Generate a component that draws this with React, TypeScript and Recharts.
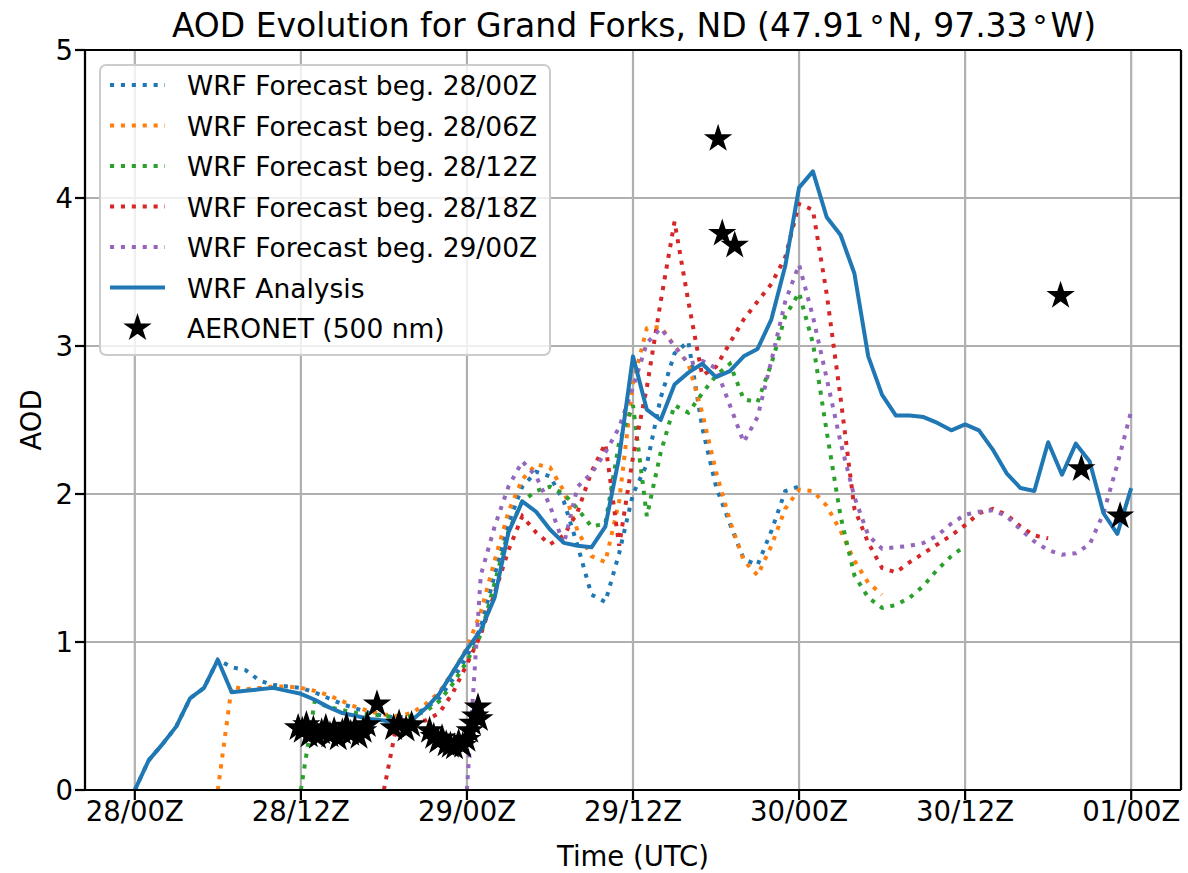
import {
  ComposedChart,
  Line,
  Scatter,
  XAxis,
  YAxis,
  CartesianGrid,
  ReferenceLine,
} from "recharts"

const FONT = "DejaVu Sans, Verdana, sans-serif"

const tickHours = [0, 12, 24, 36, 48, 60, 72]
const tickLabels = ["28/00Z", "28/12Z", "29/00Z", "29/12Z", "30/00Z", "30/12Z", "01/00Z"]
const aodTicks = [0, 1, 2, 3, 4, 5]

// hourly values, analysis runs 28/00Z .. 01/00Z
const analysis = [
  0, 0.2, 0.31, 0.43, 0.62, 0.69, 0.88, 0.66, 0.67, 0.68,
  0.69, 0.67, 0.65, 0.61, 0.56, 0.52, 0.5, 0.48, 0.47, 0.45,
  0.47, 0.55, 0.65, 0.8, 0.95, 1.08, 1.3, 1.74, 1.95, 1.88,
  1.76, 1.67, 1.65, 1.64, 1.78, 2.25, 2.93, 2.57, 2.5, 2.74,
  2.82, 2.88, 2.79, 2.83, 2.93, 2.98, 3.18, 3.54, 4.07, 4.18,
  3.87, 3.75, 3.49, 2.93, 2.67, 2.53, 2.53, 2.52, 2.48, 2.43,
  2.47, 2.43, 2.3, 2.14, 2.04, 2.02, 2.35, 2.13, 2.34, 2.22,
  1.87, 1.73, 2.04,
]

// 48 h forecasts, hourly from their start time
const fc2800 = [
  0, 0.2, 0.31, 0.43, 0.62, 0.69, 0.88, 0.83, 0.81, 0.74,
  0.71, 0.7, 0.69, 0.66, 0.62, 0.58, 0.55, 0.52, 0.5, 0.49,
  0.5, 0.55, 0.62, 0.75, 0.9, 1.1, 1.45, 1.8, 2.05, 2.15,
  2.12, 1.95, 1.65, 1.32, 1.27, 1.6, 2.0, 2.2, 2.65, 2.95,
  3.03, 2.45, 2.05, 1.8, 1.56, 1.52, 1.75, 2.02, 2.05,
]
const fc2806 = [
  0, 0.7, 0.68, 0.69, 0.7, 0.7, 0.69, 0.67, 0.64, 0.6,
  0.56, 0.53, 0.51, 0.5, 0.52, 0.58, 0.66, 0.8, 0.96, 1.2,
  1.55, 1.88, 2.1, 2.2, 2.18, 2.02, 1.75, 1.58, 1.54, 1.95,
  2.75, 3.12, 3.13, 3.0, 2.88, 2.55, 2.15, 1.82, 1.55, 1.45,
  1.65, 1.9, 2.03, 2.02, 1.92, 1.75, 1.55, 1.4, 1.32,
]
const fc2812 = [
  0, 0.6, 0.56, 0.54, 0.52, 0.51, 0.5, 0.49, 0.5, 0.53,
  0.6, 0.72, 0.87, 1.05, 1.4, 1.75, 1.95, 2.02, 2.05, 2.0,
  1.9, 1.78, 1.8, 2.35, 2.6, 1.85, 2.28, 2.6, 2.55, 2.68,
  2.8, 2.88, 2.64, 2.62, 2.88, 3.2, 3.36, 3.02, 2.42, 1.85,
  1.45, 1.3, 1.23, 1.25, 1.3, 1.38, 1.49, 1.58, 1.65,
]
const fc2818 = [
  0, 0.48, 0.46, 0.47, 0.52, 0.66, 0.85, 1.05, 1.33, 1.62,
  1.85, 1.74, 1.66, 1.72, 1.88, 2.15, 2.34, 1.65, 2.25, 2.72,
  3.3, 3.84, 3.3, 2.8, 2.86, 3.02, 3.18, 3.3, 3.42, 3.6,
  3.96, 3.92, 3.35, 2.65, 1.9, 1.67, 1.5, 1.47, 1.54, 1.6,
  1.66, 1.72, 1.79, 1.87, 1.9, 1.86, 1.78, 1.72, 1.7,
]
const fc2900 = [
  0, 1.45, 1.78, 2.05, 2.22, 2.12, 1.92, 1.66, 2.05, 2.14,
  2.28, 2.45, 2.72, 3.02, 3.12, 3.0, 2.88, 2.9, 2.85, 2.6,
  2.35, 2.52, 2.9, 3.3, 3.55, 3.2, 2.78, 2.35, 1.98, 1.72,
  1.63, 1.64, 1.65, 1.67, 1.72, 1.8, 1.86, 1.88, 1.89, 1.85,
  1.76, 1.68, 1.62, 1.59, 1.6, 1.66, 1.87, 2.2, 2.56,
]

// AERONET 500 nm, hours after 28/00Z
const aeronetHours = [
  11.8, 12.1, 12.4, 12.6, 12.9, 13.2, 13.5, 13.8, 14.1, 14.4,
  14.7, 15.0, 15.3, 15.6, 15.9, 16.2, 16.5, 16.8, 17.5, 18.7,
  19.1, 19.6, 20.0, 21.3, 21.6, 21.9, 22.2, 22.5, 22.8, 23.1,
  23.4, 23.7, 24.0, 24.2, 24.4, 24.6, 24.8, 24.9, 42.15, 42.45,
  43.35, 66.9, 68.4, 71.2,
]
const aeronetAod = [
  0.42, 0.4, 0.44, 0.37, 0.41, 0.36, 0.39, 0.42, 0.37, 0.4,
  0.35, 0.39, 0.43, 0.38, 0.41, 0.36, 0.4, 0.44, 0.58, 0.42,
  0.45, 0.41, 0.44, 0.4, 0.36, 0.33, 0.35, 0.31, 0.3, 0.29,
  0.32, 0.3, 0.34, 0.4, 0.45, 0.5, 0.56, 0.48, 4.4, 3.76,
  3.68, 3.34, 2.17, 1.85,
]

const forecasts = [
  { name: "WRF Forecast beg. 28/00Z", start: 0, values: fc2800, color: "#1f77b4" },
  { name: "WRF Forecast beg. 28/06Z", start: 6, values: fc2806, color: "#ff7f0e" },
  { name: "WRF Forecast beg. 28/12Z", start: 12, values: fc2812, color: "#2ca02c" },
  { name: "WRF Forecast beg. 28/18Z", start: 18, values: fc2818, color: "#d62728" },
  { name: "WRF Forecast beg. 29/00Z", start: 24, values: fc2900, color: "#9467bd" },
]

const toPoints = (start: number, values: number[]) =>
  values.map((v, i) => ({ h: start + i, v }))

const aeronetPoints = aeronetHours.map((h, i) => ({ h, v: aeronetAod[i] }))

const DOTS = "4.1 6.8"

function starPath(cx: number, cy: number, R: number) {
  const r = R * 0.381966
  let d = ""
  for (let i = 0; i < 10; i++) {
    const rad = i % 2 === 0 ? R : r
    const a = -Math.PI / 2 + (i * Math.PI) / 5
    d += (i === 0 ? "M" : "L") + (cx + rad * Math.cos(a)).toFixed(2) + "," + (cy + rad * Math.sin(a)).toFixed(2)
  }
  return d + "Z"
}

function StarShape(props: any) {
  const { cx, cy } = props
  if (cx == null || cy == null) return null
  return <path d={starPath(cx, cy, 12.5)} fill="#000" stroke="#000" strokeWidth={1.5} />
}

function XTick(props: any) {
  const { x, y, payload } = props
  const idx = tickHours.indexOf(payload.value)
  return (
    <text x={x} y={y} dy={19} textAnchor="middle" fontFamily={FONT} fontSize={27.5} fill="#000">
      {tickLabels[idx]}
    </text>
  )
}

function YTick(props: any) {
  const { x, y, payload } = props
  return (
    <text x={x} y={y} dy={10} textAnchor="end" fontFamily={FONT} fontSize={27.5} fill="#000">
      {payload.value}
    </text>
  )
}

function Overlay() {
  const rowY = [85, 125.5, 166, 206.5, 247, 287.5, 328]
  return (
    <svg
      width={1188}
      height={873}
      style={{ position: "absolute", left: 0, top: 0, pointerEvents: "none" }}
      fontFamily={FONT}
    >
      <text x={634} y={37} textAnchor="middle" fontSize={33} fill="#000">
        AOD Evolution for Grand Forks, ND (47.91
        <tspan dx={5} fontSize={30}>°</tspan>
        <tspan dx={3}>N, 97.33</tspan>
        <tspan dx={5} fontSize={30}>°</tspan>
        <tspan dx={3}>W)</tspan>
      </text>
      <text x={633} y={866} textAnchor="middle" fontSize={27.5} fill="#000">
        Time (UTC)
      </text>
      <text
        x={0}
        y={0}
        transform="translate(41,420) rotate(-90)"
        textAnchor="middle"
        fontSize={27.5}
        fill="#000"
      >
        AOD
      </text>

      <rect
        x={100}
        y={65}
        width={450}
        height={290}
        rx={6}
        fill="rgba(255,255,255,0.8)"
        stroke="#cccccc"
        strokeWidth={2}
      />
      {forecasts.map((f, i) => (
        <g key={f.name}>
          <line x1={110} x2={165} y1={rowY[i]} y2={rowY[i]} stroke={f.color} strokeWidth={4} strokeDasharray={DOTS} />
          <text x={187} y={rowY[i] + 10} fontSize={26.5} fill="#000">
            {f.name}
          </text>
        </g>
      ))}
      <line x1={110} x2={165} y1={rowY[5]} y2={rowY[5]} stroke="#1f77b4" strokeWidth={4} />
      <text x={187} y={rowY[5] + 10} fontSize={26.5} fill="#000">
        WRF Analysis
      </text>
      <path d={starPath(137.5, rowY[6], 12.5)} fill="#000" stroke="#000" strokeWidth={1.5} />
      <text x={187} y={rowY[6] + 10} fontSize={26.5} fill="#000">
        AERONET (500 nm)
      </text>
    </svg>
  )
}

export default function App() {
  return (
    <div style={{ position: "absolute", left: 0, top: 0, width: 1188, height: 873, background: "#fff" }}>
      <ComposedChart width={1188} height={873} margin={{ top: 50, right: 7, bottom: 0, left: 0 }}>
        <CartesianGrid stroke="#b0b0b0" strokeWidth={2.2} />
        <XAxis
          type="number"
          dataKey="h"
          domain={[-3.6, 75.6]}
          ticks={tickHours}
          allowDataOverflow
          height={83}
          tickSize={10}
          tickMargin={2}
          tick={<XTick />}
          axisLine={{ stroke: "#000", strokeWidth: 2.2 }}
          tickLine={{ stroke: "#000", strokeWidth: 2.2 }}
        />
        <YAxis
          type="number"
          domain={[0, 5]}
          ticks={aodTicks}
          allowDataOverflow
          width={85}
          tickSize={10}
          tickMargin={2}
          tick={<YTick />}
          axisLine={{ stroke: "#000", strokeWidth: 2.2 }}
          tickLine={{ stroke: "#000", strokeWidth: 2.2 }}
        />
        <ReferenceLine y={5} stroke="#000" strokeWidth={2.2} />
        <ReferenceLine x={75.6} stroke="#000" strokeWidth={2.2} />
        {forecasts.map((f) => (
          <Line
            key={f.name}
            data={toPoints(f.start, f.values)}
            dataKey="v"
            type="linear"
            stroke={f.color}
            strokeWidth={4}
            strokeDasharray={DOTS}
            dot={false}
            activeDot={false}
            isAnimationActive={false}
          />
        ))}
        <Line
          data={toPoints(0, analysis)}
          dataKey="v"
          type="linear"
          stroke="#1f77b4"
          strokeWidth={4}
          strokeLinejoin="round"
          dot={false}
          activeDot={false}
          isAnimationActive={false}
        />
        <Scatter data={aeronetPoints} dataKey="v" shape={StarShape} isAnimationActive={false} />
      </ComposedChart>
      <Overlay />
    </div>
  )
}
